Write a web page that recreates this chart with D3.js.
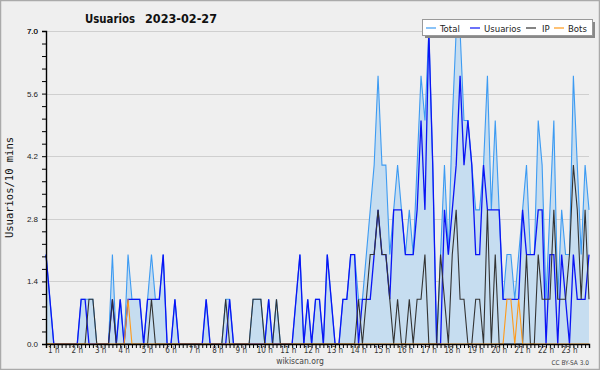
<!DOCTYPE html>
<html>
<head>
<meta charset="utf-8">
<script src="https://cdn.jsdelivr.net/npm/d3@7"></script>
<style>
  body { margin: 0; background: #fff; }
  svg { display: block; font-family: 'DejaVu Sans Condensed', 'DejaVu Sans', sans-serif; }
</style>
</head>
<body>
<svg id="chart"></svg>
<script>
// 10 min samples, first one at 00:40
const startMinute = 40;
const stepMinutes = 10;

const hourLabels = ['1 h', '2 h', '3 h', '4 h', '5 h', '6 h', '7 h', '8 h', '9 h', '10 h', '11 h', '12 h',
    '13 h', '14 h', '15 h', '16 h', '17 h', '18 h', '19 h', '20 h', '21 h', '22 h', '23 h'];
const yTicks = [0, 1.4, 2.8, 4.2, 5.6, 7.0];
const seriesNames = ['Total', 'Usuarios', 'IP', 'Bots'];

const total = [
    2, 1, 0, 0, 0, 0, 0, 0, 0, 1,
    1, 1, 1, 0, 0, 0, 0, 2, 0, 1,
    0, 2, 1, 1, 1, 0, 1, 2, 1, 1,
    2, 0, 0, 1, 0, 0, 0, 0, 0, 0,
    0, 1, 0, 0, 0, 0, 1, 1, 0, 0,
    0, 0, 0, 1, 1, 1, 0, 1, 0, 1,
    0, 0, 0, 0, 1, 2, 0, 1, 0, 1,
    1, 0, 2, 1, 0, 0, 1, 1, 2, 2,
    1, 1, 2, 3, 4, 6, 4, 4, 2, 3,
    4, 3, 2, 3, 2, 4, 6, 5, 7, 4,
    0, 2, 4, 2, 5, 7, 7, 5, 5, 4,
    3, 3, 4, 6, 3, 5, 3, 1, 2, 2,
    1, 2, 3, 4, 2, 2, 5, 4, 1, 3,
    5, 1, 3, 2, 2, 6, 4, 2, 4, 3
];
const usuarios = [
    2, 1, 0, 0, 0, 0, 0, 0, 0, 1,
    1, 0, 0, 0, 0, 0, 0, 1, 0, 1,
    0, 1, 1, 1, 1, 0, 1, 1, 1, 1,
    2, 0, 0, 1, 0, 0, 0, 0, 0, 0,
    0, 1, 0, 0, 0, 0, 0, 1, 0, 0,
    0, 0, 0, 0, 0, 0, 0, 1, 0, 0,
    0, 0, 0, 0, 1, 2, 0, 1, 0, 1,
    1, 0, 2, 1, 0, 0, 1, 1, 2, 2,
    0, 1, 1, 1, 2, 3, 2, 2, 1, 3,
    3, 3, 2, 2, 2, 3, 5, 3, 7, 4,
    0, 0, 3, 2, 3, 4, 6, 4, 5, 4,
    2, 2, 4, 3, 3, 3, 3, 1, 1, 1,
    1, 1, 3, 2, 2, 2, 3, 3, 0, 2,
    2, 0, 2, 1, 0, 2, 1, 1, 1, 2
];
const ip = [
    0, 0, 0, 0, 0, 0, 0, 0, 0, 0,
    0, 1, 1, 0, 0, 0, 0, 1, 0, 0,
    0, 0, 0, 0, 0, 0, 0, 1, 0, 0,
    0, 0, 0, 0, 0, 0, 0, 0, 0, 0,
    0, 0, 0, 0, 0, 0, 1, 0, 0, 0,
    0, 0, 0, 1, 1, 1, 0, 0, 0, 1,
    0, 0, 0, 0, 0, 0, 0, 0, 0, 0,
    0, 0, 0, 0, 0, 0, 0, 0, 0, 0,
    1, 0, 1, 2, 2, 3, 2, 2, 1, 0,
    1, 0, 0, 1, 0, 1, 1, 2, 0, 0,
    0, 2, 1, 0, 2, 3, 1, 1, 0, 0,
    1, 1, 0, 3, 0, 2, 0, 0, 0, 0,
    0, 0, 0, 2, 0, 0, 2, 1, 1, 1,
    3, 1, 1, 1, 2, 4, 3, 1, 3, 1
];
const bots = [
    0, 0, 0, 0, 0, 0, 0, 0, 0, 0,
    0, 0, 0, 0, 0, 0, 0, 0, 0, 0,
    0, 1, 0, 0, 0, 0, 0, 0, 0, 0,
    0, 0, 0, 0, 0, 0, 0, 0, 0, 0,
    0, 0, 0, 0, 0, 0, 0, 0, 0, 0,
    0, 0, 0, 0, 0, 0, 0, 0, 0, 0,
    0, 0, 0, 0, 0, 0, 0, 0, 0, 0,
    0, 0, 0, 0, 0, 0, 0, 0, 0, 0,
    0, 0, 0, 0, 0, 0, 0, 0, 0, 0,
    0, 0, 0, 0, 0, 0, 0, 0, 0, 0,
    0, 0, 0, 0, 0, 0, 0, 0, 0, 0,
    0, 0, 0, 0, 0, 0, 0, 0, 1, 1,
    0, 1, 0, 0, 0, 0, 0, 0, 0, 0,
    0, 0, 0, 0, 0, 0, 0, 0, 0, 0
];

const colors = { Total: '#3d9bf2', Usuarios: '#0a14f5', IP: '#333333', Bots: '#ff9a1a' };

const width = 600;
const height = 370;
const plot = { left: 46, right: 589, top: 31, bottom: 344 };

const svg = d3.select('#chart')
    .attr('width', width)
    .attr('height', height);

// background + frame
svg.append('rect')
    .attr('x', 0.5).attr('y', 0.5)
    .attr('width', width - 1).attr('height', height - 1)
    .attr('fill', '#efefef')
    .attr('stroke', '#aaaaaa')
    .attr('stroke-width', 1.5);

const minutes = total.map((d, i) => startMinute + i * stepMinutes);

const x = d3.scaleLinear()
    .domain([minutes[0], minutes[minutes.length - 1]])
    .range([plot.left, plot.right]);

const y = d3.scaleLinear()
    .domain([0, 7])
    .range([plot.bottom, plot.top]);

// grid
svg.append('g')
    .selectAll('line')
    .data(yTicks.filter(d => d > 0))
    .enter().append('line')
    .attr('x1', plot.left).attr('x2', plot.right)
    .attr('y1', d => Math.round(y(d)) + 0.5)
    .attr('y2', d => Math.round(y(d)) + 0.5)
    .attr('stroke', '#cfcfcf')
    .attr('stroke-width', 1);

// total area
const area = d3.area()
    .x((d, i) => x(minutes[i]))
    .y0(y(0))
    .y1(d => y(d));

svg.append('path')
    .datum(total)
    .attr('d', area)
    .attr('fill', '#c6ddf0');

const line = d3.line()
    .x((d, i) => x(minutes[i]))
    .y(d => y(d));

const series = [
    { name: 'Total', values: total, w: 1.1 },
    { name: 'Usuarios', values: usuarios, w: 1.3 },
    { name: 'IP', values: ip, w: 1.1 },
    { name: 'Bots', values: bots, w: 1.1 }
];

svg.selectAll('.series')
    .data(series)
    .enter().append('path')
    .attr('class', 'series')
    .attr('d', d => line(d.values))
    .attr('fill', 'none')
    .attr('stroke', d => colors[d.name])
    .attr('stroke-width', d => d.w)
    .attr('stroke-linejoin', 'miter');

// y axis
const yAxis = svg.append('g')
    .attr('transform', `translate(${plot.left},0)`)
    .call(d3.axisLeft(y)
        .tickValues(d3.range(0, 26).map(k => k * 0.28).concat([7]))
        .tickSize(4)
        .tickFormat(d => yTicks.some(t => Math.abs(t - d) < 1e-6) ? d3.format('.1f')(d) : ''));

yAxis.select('.domain').attr('stroke', '#000').attr('stroke-width', 1.4);
yAxis.selectAll('.tick line').attr('stroke', '#000');
yAxis.selectAll('.tick text')
    .attr('font-size', 8)
    .attr('fill', '#222')
    .attr('dx', -1);

// x axis
const xAxis = svg.append('g')
    .attr('transform', `translate(0,${plot.bottom})`)
    .call(d3.axisBottom(x)
        .tickValues(minutes)
        .tickSize(4)
        .tickFormat(''));

xAxis.select('.domain').attr('stroke', '#000').attr('stroke-width', 1.4);
xAxis.selectAll('.tick line').attr('stroke', '#000');

svg.append('g')
    .selectAll('text')
    .data(hourLabels)
    .enter().append('text')
    .attr('x', (d, i) => x((i + 1) * 60))
    .attr('y', 353)
    .attr('text-anchor', 'middle')
    .attr('font-size', 8)
    .attr('fill', '#333')
    .text(d => d);

// titles
svg.append('text')
    .attr('x', 85).attr('y', 23)
    .attr('font-size', 13)
    .attr('font-weight', 'bold')
    .attr('fill', '#111')
    .attr('textLength', 50)
    .attr('lengthAdjust', 'spacingAndGlyphs')
    .text('Usuarios');

svg.append('text')
    .attr('x', 145).attr('y', 23)
    .attr('font-size', 13)
    .attr('font-weight', 'bold')
    .attr('fill', '#111')
    .attr('textLength', 72)
    .attr('lengthAdjust', 'spacingAndGlyphs')
    .text('2023-02-27');

svg.append('text')
    .attr('text-anchor', 'middle')
    .attr('transform', `translate(13, ${(plot.top + plot.bottom) / 2}) rotate(-90)`)
    .attr('font-family', 'DejaVu Sans Mono, monospace')
    .attr('font-size', 10.5)
    .attr('fill', '#111')
    .text('Usuarios/10 mins');

svg.append('text')
    .attr('x', 300).attr('y', 364)
    .attr('text-anchor', 'middle')
    .attr('font-size', 8.5)
    .attr('fill', '#444')
    .text('wikiscan.org');

svg.append('text')
    .attr('x', 589).attr('y', 365)
    .attr('text-anchor', 'end')
    .attr('font-size', 6.5)
    .attr('fill', '#444')
    .text('CC BY-SA 3.0');

// legend
const legend = svg.append('g');
legend.append('rect')
    .attr('x', 425).attr('y', 22)
    .attr('width', 170).attr('height', 16)
    .attr('fill', '#888');
legend.append('rect')
    .attr('x', 422.5).attr('y', 19.5)
    .attr('width', 170).attr('height', 16)
    .attr('fill', '#fff')
    .attr('stroke', '#999');

const legendX = [426, 470, 526, 554];
const items = legend.selectAll('.item')
    .data(seriesNames)
    .enter().append('g')
    .attr('transform', (d, i) => `translate(${legendX[i]},28)`);

items.append('line')
    .attr('x1', 0).attr('x2', 10)
    .attr('stroke', d => colors[d])
    .attr('stroke-width', 1.2);

items.append('text')
    .attr('x', d => d === 'IP' ? 16 : 14)
    .attr('y', 3.5)
    .attr('font-size', 9.5)
    .attr('fill', '#222')
    .text(d => d);
</script>
</body>
</html>
